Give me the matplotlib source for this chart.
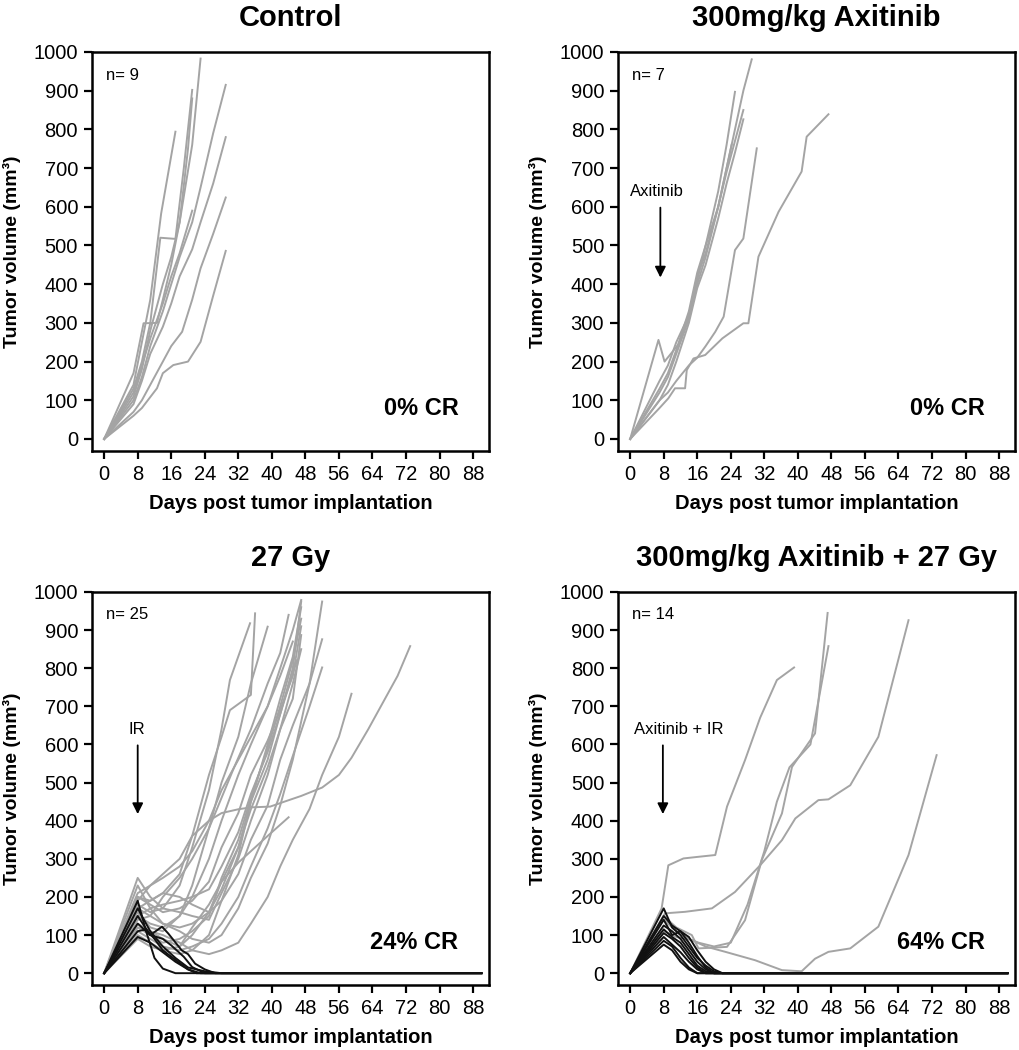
import matplotlib
matplotlib.use('Agg')
import matplotlib.pyplot as plt

plt.rcParams['font.family'] = ['Liberation Sans', 'DejaVu Sans']

GREY = '#a4a4a4'
BLACK = '#111111'

# one list per mouse: days post implantation / tumor volume (mm3)
ctrl_days = [
    [0, 7, 9, 11, 14, 16, 18, 21, 23],
    [0, 7, 9, 11, 13.4, 17, 19, 21],
    [0, 7, 9, 11, 13.6, 17],
    [0, 7, 9, 11, 14, 16, 18, 21, 23, 26, 29],
    [0, 7, 9, 11, 14, 16, 18, 21, 23, 26, 29],
    [0, 7, 9, 11, 14, 16, 18.6, 21, 23, 26, 29],
    [0, 7, 9, 12.6, 14, 16.5, 20, 23, 26, 29],
    [0, 7, 9, 11, 14, 16, 18, 21],
    [0, 7, 9.4, 12.6, 14, 16, 18, 20, 21],
]
ctrl_vols = [
    [0, 110, 180, 280, 400, 470, 560, 760, 983],
    [0, 130, 200, 300, 520, 517, 700, 902],
    [0, 140, 250, 360, 583, 794],
    [0, 100, 160, 240, 330, 400, 470, 560, 650, 790, 915],
    [0, 90, 150, 220, 290, 350, 420, 490, 560, 660, 780],
    [0, 70, 100, 140, 200, 240, 277, 360, 441, 530, 624],
    [0, 60, 80, 131, 170, 191, 200, 251, 370, 486],
    [0, 120, 190, 260, 350, 420, 480, 590],
    [0, 170, 299, 300, 360, 450, 560, 750, 880],
]

axi_days = [
    [0, 7, 9, 11, 14, 16, 18, 21, 23, 25, 27, 29],
    [0, 7, 9, 11, 14, 16, 18, 21, 23, 25],
    [0, 7, 9, 11, 14, 16, 18, 21, 23, 25, 27],
    [0, 7, 9, 11, 14, 16, 18, 21, 23, 25, 27],
    [0, 6.75, 8.2, 11.7, 14, 16, 18, 21, 23, 24.2],
    [0, 7, 9, 11, 14, 16, 18, 20.3, 22.3, 25, 27, 30.2],
    [0, 7, 9.1, 10.7, 13.1, 13.5, 15.1, 17.9, 22, 27, 28.2, 30.6, 35.4, 40.9, 42.1, 47.3],
]
axi_vols = [
    [0, 150, 190, 250, 320, 420, 480, 600, 700, 800, 900, 981],
    [0, 130, 170, 230, 330, 430, 500, 640, 760, 897],
    [0, 120, 160, 220, 310, 400, 470, 600, 690, 770, 850],
    [0, 100, 140, 200, 300, 390, 450, 570, 660, 740, 826],
    [0, 256, 200, 247, 320, 410, 500, 600, 700, 760],
    [0, 100, 120, 150, 190, 210, 240, 277, 316, 488, 518, 751],
    [0, 80, 105, 131, 131, 178, 208, 217, 260, 299, 299, 471, 587, 691, 781, 839],
]

# 27 Gy - progressing (grey)
gy_days = [
    [0, 8, 11, 14, 18, 21, 25, 28, 30, 35, 36],
    [0, 8, 11, 14, 18, 21, 25, 28, 30, 34.8],
    [0, 8, 11, 14, 18, 21, 25, 28, 32, 35, 39],
    [0, 8, 11, 14, 18, 21, 25, 28, 32, 35, 39, 44],
    [0, 8, 11, 14, 18, 21, 25, 28, 32, 35, 39, 42, 45, 47],
    [0, 8, 11, 14, 18, 21, 25, 28, 32, 35, 39, 42, 45, 47],
    [0, 8, 11, 14, 18, 21, 25, 28, 32, 35, 39, 42, 45, 47],
    [0, 8, 11, 14, 18, 21, 25, 28, 32, 35, 39, 42, 46],
    [0, 8, 11, 14, 18, 21, 25, 28, 32, 35, 39, 42, 45, 49, 52],
    [0, 8, 11, 14, 18, 21, 25, 28, 32, 35, 39, 42, 45, 49, 52],
    [0, 8, 11, 14, 18, 21, 25, 28, 32, 35, 39, 42, 45, 49, 52],
    [0, 8, 11, 14, 18, 21, 25, 28, 32, 35, 39, 42, 45, 49, 52, 56, 59],
    [0, 8, 11, 14, 18, 21, 25, 28, 32, 35, 39.6, 43, 47, 52, 56, 59, 63, 66, 70, 73],
    [0, 8, 11, 14, 18, 21, 25, 28, 32, 35, 39, 42, 45, 47],
    [0, 8, 11, 14, 18, 21, 25, 28, 32, 35, 39, 42, 45],
    [0, 8, 11, 14, 18, 21, 25, 28, 32, 35, 39, 42, 45, 47],
    [0, 8, 11, 14, 18, 21, 25, 28, 32, 35, 39, 42, 45, 47],
    [0, 8, 11, 14, 18, 21, 25, 28, 31, 35, 39, 42, 44],
    [0, 8, 11, 14, 18, 21, 25, 28, 32, 35, 39, 42, 45, 47],
]
gy_vols = [
    [0, 200, 190, 210, 260, 360, 520, 620, 690, 730, 944],
    [0, 180, 160, 170, 230, 330, 480, 640, 769, 918],
    [0, 160, 120, 110, 150, 230, 380, 500, 620, 760, 909],
    [0, 130, 110, 90, 70, 120, 180, 240, 290, 320, 360, 409],
    [0, 150, 170, 180, 190, 200, 220, 280, 370, 470, 580, 680, 800, 975],
    [0, 120, 100, 80, 90, 110, 150, 250, 350, 460, 590, 700, 820, 930],
    [0, 250, 200, 170, 160, 150, 140, 210, 300, 400, 520, 640, 720, 887],
    [0, 100, 80, 60, 50, 60, 100, 190, 310, 450, 560, 680, 821],
    [0, 140, 150, 130, 110, 90, 80, 100, 170, 250, 340, 440, 560, 760, 975],
    [0, 170, 190, 210, 200, 180, 160, 190, 260, 350, 440, 560, 650, 760, 876],
    [0, 110, 90, 70, 60, 70, 90, 130, 200, 280, 380, 470, 570, 700, 802],
    [0, 120, 110, 100, 80, 60, 50, 60, 80, 130, 200, 280, 350, 431, 520, 620, 733],
    [0, 190, 230, 260, 300, 360, 400, 420, 430, 435, 437, 450, 465, 487, 520, 565, 640, 700, 780, 858],
    [0, 150, 130, 120, 150, 200, 300, 400, 520, 600, 700, 800, 900, 979],
    [0, 210, 230, 250, 280, 320, 400, 480, 560, 620, 700, 780, 870],
    [0, 90, 70, 60, 70, 100, 160, 240, 330, 430, 540, 640, 760, 850],
    [0, 200, 180, 160, 170, 190, 240, 330, 420, 520, 610, 690, 780, 910],
    [0, 170, 150, 200, 250, 300, 380, 460, 540, 640, 760, 840, 940],
    [0, 230, 170, 130, 120, 130, 160, 220, 330, 450, 600, 720, 830, 960],
]
# 27 Gy - complete responders (black)
gy_cr_days = [
    [0, 8, 10, 12, 14, 17, 90],
    [0, 8, 11, 13.8, 15.3, 18.5, 20, 21.7, 24, 26.5, 90],
    [0, 8, 11, 14, 16, 19, 21, 24, 90],
    [0, 8, 10, 12, 14, 17, 20, 23, 90],
    [0, 8, 11, 14, 17, 20, 22, 90],
    [0, 8, 11, 14, 17, 20, 24, 28, 90],
]
gy_cr_vols = [
    [0, 190, 110, 40, 12, 0, 0],
    [0, 150, 100, 122, 104, 60, 50, 25, 10, 0, 0],
    [0, 130, 100, 90, 73, 43, 16, 0, 0],
    [0, 110, 115, 90, 60, 35, 10, 0, 0],
    [0, 95, 80, 55, 30, 10, 0, 0],
    [0, 170, 110, 70, 40, 15, 5, 0, 0],
]

# axitinib + 27 Gy
combo_days = [
    [0, 7.5, 9.1, 12.7, 16, 20.3, 23.1, 27.4, 31, 35, 39.1],
    [0, 8, 11, 14.7, 16.3, 23.1, 27.4, 31.4, 36.2, 38.6, 44.1, 47.1],
    [0, 8, 11, 14, 16.3, 20, 24, 28, 32, 35, 38, 43, 47.3],
    [0, 8.3, 13.1, 19.5, 25, 31, 36.2, 39.4, 44.9, 47.3, 52.5, 59.2, 66.4],
    [0, 8, 11, 14.7, 18, 22.7, 29.8, 36.2, 40.9, 44.1, 47.3, 52.5, 59.2, 66.4, 73.1],
]
combo_vols = [
    [0, 170, 283, 301, 305, 310, 437, 559, 670, 769, 802],
    [0, 150, 120, 100, 65, 69, 139, 297, 419, 541, 629, 945],
    [0, 140, 110, 90, 80, 70, 80, 180, 320, 450, 540, 600, 858],
    [0, 157, 161, 170, 213, 283, 349, 406, 454, 456, 493, 620, 926],
    [0, 110, 95, 87, 70, 56, 34, 8, 5, 38, 56, 65, 122, 310, 572],
]
combo_cr_days = [0, 8, 10, 12, 14, 16, 18, 20, 22, 90]
combo_cr_vols = [
    [0, 170, 120, 100, 70, 40, 20, 5, 0, 0],
    [0, 150, 125, 110, 95, 60, 30, 10, 0, 0],
    [0, 140, 100, 110, 80, 45, 15, 0, 0, 0],
    [0, 125, 110, 90, 60, 30, 10, 0, 0, 0],
    [0, 115, 95, 80, 50, 20, 5, 0, 0, 0],
    [0, 105, 90, 70, 40, 15, 0, 0, 0, 0],
    [0, 95, 75, 55, 30, 10, 0, 0, 0, 0],
    [0, 85, 70, 40, 15, 0, 0, 0, 0, 0],
    [0, 75, 60, 30, 10, 0, 0, 0, 0, 0],
]

x_ticks = list(range(0, 89, 8))
y_ticks = list(range(0, 1001, 100))


def setup(ax, title, n_txt, cr_txt):
    ax.set_xlim(-2.9, 91.8)
    ax.set_ylim(-31, 1000)
    ax.set_xticks(x_ticks)
    ax.set_yticks(y_ticks)
    ax.tick_params(direction='out', length=6, width=1.6, labelsize=14.5, pad=4)
    for s in ax.spines.values():
        s.set_linewidth(1.8)
    ax.set_xlabel('Days post tumor implantation', fontsize=14.5, fontweight='bold', labelpad=7)
    ax.set_ylabel('Tumor volume (mm³)', fontsize=14, fontweight='bold', labelpad=9)
    ax.set_title(title, fontsize=21, fontweight='bold', pad=19)
    ax.text(0.5, 940, n_txt, fontsize=12, ha='left', va='center')
    ax.text(84.5, 80, cr_txt, fontsize=17, fontweight='bold', ha='right', va='center')


def arrow(ax, label, tx, x):
    ax.text(tx, 640, label, fontsize=12, ha='center', va='center')
    ax.annotate('', xy=(x, 410), xytext=(x, 605),
                arrowprops=dict(arrowstyle='-|>', color='black', lw=1.3, mutation_scale=16))


fig = plt.figure(figsize=(10.2, 10.5), dpi=100)
ax1 = fig.add_axes([0.0902, 0.5705, 0.3892, 0.380])
ax2 = fig.add_axes([0.6059, 0.5705, 0.3892, 0.380])
ax3 = fig.add_axes([0.0902, 0.0619, 0.3892, 0.3743])
ax4 = fig.add_axes([0.6059, 0.0619, 0.3892, 0.3743])

for d, v in zip(ctrl_days, ctrl_vols):
    ax1.plot(d, v, color=GREY, lw=1.4)
setup(ax1, 'Control', 'n= 9', '0% CR')

for d, v in zip(axi_days, axi_vols):
    ax2.plot(d, v, color=GREY, lw=1.4)
setup(ax2, '300mg/kg Axitinib', 'n= 7', '0% CR')
arrow(ax2, 'Axitinib', 6.4, 7.2)

for d, v in zip(gy_days, gy_vols):
    ax3.plot(d, v, color=GREY, lw=1.4)
for d, v in zip(gy_cr_days, gy_cr_vols):
    ax3.plot(d, v, color=BLACK, lw=1.4)
setup(ax3, '27 Gy', 'n= 25', '24% CR')
arrow(ax3, 'IR', 7.8, 8)

for d, v in zip(combo_days, combo_vols):
    ax4.plot(d, v, color=GREY, lw=1.4)
for v in combo_cr_vols:
    ax4.plot(combo_cr_days, v, color=BLACK, lw=1.4)
setup(ax4, '300mg/kg Axitinib + 27 Gy', 'n= 14', '64% CR')
arrow(ax4, 'Axitinib + IR', 11.5, 7.8)

plt.savefig('out.png', dpi=100, facecolor='white')
